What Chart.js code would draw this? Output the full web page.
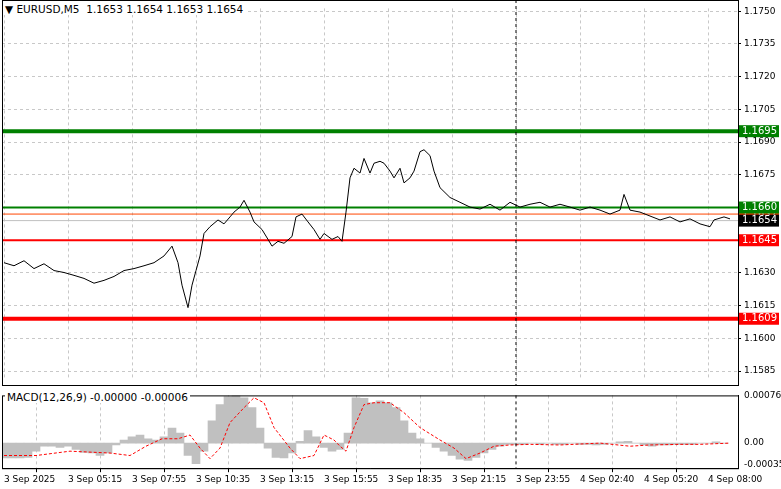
<!DOCTYPE html>
<html><head><meta charset="utf-8">
<script src="https://cdn.jsdelivr.net/npm/chart.js@4.4.1/dist/chart.umd.min.js"></script>
<style>
body{margin:0;background:#fff;width:781px;height:489px;overflow:hidden;position:relative;font-family:"DejaVu Sans",sans-serif}
#c1{position:absolute;left:0;top:0}
#c2{position:absolute;left:0;top:387px}
.lbl{position:absolute;font-size:10.5px;color:#000;background:#fff;padding:0 2px;white-space:pre}
</style></head><body>
<canvas id="c1" width="781" height="388"></canvas>
<canvas id="c2" width="781" height="102"></canvas>
<div class="lbl" style="left:3px;top:3px">▼ EURUSD,M5  1.1653 1.1654 1.1653 1.1654</div>
<div class="lbl" style="left:5px;top:391px">MACD(12,26,9) -0.00000 -0.00006</div>
<script>
const timeLabels=["3 Sep 2025","3 Sep 05:15","3 Sep 07:55","3 Sep 10:35","3 Sep 13:15","3 Sep 15:55","3 Sep 18:35","3 Sep 21:15","3 Sep 23:55","4 Sep 02:40","4 Sep 05:20","4 Sep 08:00"];
const priceTicks=[1.1585,1.1600,1.1615,1.1630,1.1645,1.1660,1.1675,1.1690,1.1705,1.1720,1.1735,1.1750];
const priceBars=[0,5,10,15,20,25,30,35,40,45,50,55,60,65,70,75,80,84,87,89,92,94,96,98,100,103,107,110,113,115,118,120,123,125,129,132,134,137,140,144,146,149,152,155,158,160,164,167,169,171,173,175,178,180,183,185,188,190,193,195,198,200,203,205,208,210,213,215,218,223,228,233,238,243,248,253,258,263,268,273,278,283,288,293,298,303,308,310,313,318,323,328,333,338,343,348,353,355,360,363];
const priceVals=[1.16347,1.16333,1.16356,1.16320,1.16342,1.16311,1.16302,1.16289,1.16275,1.16253,1.16266,1.16284,1.16311,1.16320,1.16333,1.16347,1.16378,1.16423,1.16347,1.16244,1.16141,1.16244,1.16311,1.16378,1.16481,1.16512,1.16543,1.16525,1.16557,1.16579,1.16602,1.16633,1.16579,1.16534,1.16499,1.16454,1.16423,1.16445,1.16436,1.16467,1.16557,1.16570,1.16534,1.16499,1.16454,1.16481,1.16454,1.16467,1.16445,1.16579,1.16736,1.16780,1.16758,1.16825,1.16758,1.16803,1.16812,1.16803,1.16767,1.16736,1.16780,1.16713,1.16736,1.16767,1.16856,1.16865,1.16838,1.16767,1.16691,1.16646,1.16624,1.16602,1.16593,1.16615,1.16588,1.16624,1.16602,1.16615,1.16624,1.16602,1.16615,1.16602,1.16588,1.16602,1.16588,1.16570,1.16588,1.16660,1.16588,1.16579,1.16561,1.16543,1.16557,1.16534,1.16548,1.16525,1.16512,1.16543,1.16557,1.16548];
const levelVals=[1.1695,1.1660,1.1657,1.1654,1.1645,1.1609];
const levelNames=["1.1695","1.1660","1.1657","1.1654","1.1645","1.1609"];
const levelColors=["#008000","#008000","#ff4500","#c0c0c0","#ff0000","#ff0000"];
const levelBoxColors=["#008000","#008000","#ff4500","#000000","#ff0000","#ff0000"];
const levelWidths=[4,2,1,1,2,4];
const macdHist=[-24,-24,-24,-23,-13,-5,-5,-7,-5,-10,-15,-16,-20,-16,-3,5,10,13,7,5,10,24,16,-20,-33,-13,36,62,75,77,73,57,24,-8,-23,-24,-16,3,20,10,-7,-13,-10,16,73,72,65,68,65,57,36,16,7,0,-7,-13,-20,-26,-28,-23,-16,-10,-5,-2,-2,-2,0,-2,0,-2,-2,0,-2,-2,-3,-2,0,2,3,0,-3,-5,-3,-3,-2,-2,-2,0,0,2,0];
const macdSigBars=[0,16,33,53,63,71,79,87,93,98,103,108,113,120,125,130,135,143,148,155,160,165,168,171,175,180,185,193,200,208,218,225,231,238,245,253,263,278,298,313,323,338,348,363];
const macdSig=[-20,-20,-13,-16,-20,-5,7,7,13,-8,-25,-8,33,57,73,65,25,-8,-25,-20,13,5,-5,-13,25,62,65,65,49,25,5,-8,-25,-16,-5,-3,-2,-3,0,-5,-3,-2,-2,0];
const histBars=macdHist.map((v,i)=>({x:i*4,y:v/100000}));
const sigPts=macdSigBars.map((b,i)=>({x:b,y:macdSig[i]/100000}));
const pricePts=priceBars.map((b,i)=>({x:b,y:priceVals[i]}));
const X0=-1,X1=367,RW=43;
const font={family:"DejaVu Sans",size:9};
const xTicks=timeLabels.map((_,i)=>({value:i*32}));

const levelPlugin={id:'lv',afterDatasetsDraw(ch){
  const c=ch.ctx,y=ch.scales.y,a=ch.chartArea;
  c.save();
  const xv=ch.scales.x.getPixelForValue(256);
  c.strokeStyle="#000";c.setLineDash([3,3]);c.lineWidth=1;
  c.beginPath();c.moveTo(xv,0);c.lineTo(xv,385);c.stroke();c.setLineDash([]);
  c.font="10px DejaVu Sans";c.textBaseline="middle";
  const order=[0,5,2,4,3,1];
  order.forEach(i=>{const py=y.getPixelForValue(levelVals[i]);
    c.fillStyle=levelBoxColors[i];c.fillRect(a.right+1,py-6,40,12);
    c.fillStyle="#fff";c.fillText(levelNames[i],a.right+4,py);});
  c.strokeStyle="#000";c.lineWidth=1;c.strokeRect(a.left+0.5,0.5,a.right-a.left,385);
  c.restore();}};

const datasets=levelVals.map((v,i)=>({type:'line',data:[{x:X0,y:v},{x:X1,y:v}],borderColor:levelColors[i],borderWidth:levelWidths[i],pointRadius:0,order:2}));
datasets.push({type:'line',data:pricePts,borderColor:"#000",borderWidth:1,pointRadius:0,tension:0,order:1});

new Chart(document.getElementById('c1'),{type:'line',data:{datasets},
 options:{responsive:false,animation:false,layout:{padding:{left:2,top:0,bottom:2,right:0}},
  plugins:{legend:{display:false},tooltip:{enabled:false}},
  scales:{x:{type:'linear',min:X0,max:X1,afterBuildTicks:s=>{s.ticks=xTicks},ticks:{display:false},grid:{color:"#c8c8c8",drawTicks:false},border:{display:false,dash:[3,3]}},
   y:{position:'right',min:1.15811,max:1.17513,afterBuildTicks:s=>{s.ticks=priceTicks.map(v=>({value:v}))},afterFit:s=>{s.width=RW},
    ticks:{font,color:"#000",padding:3,callback:v=>v.toFixed(4)},grid:{color:"#c8c8c8",drawTicks:true,tickLength:3,tickColor:"#000"},border:{color:"#000",dash:[3,3]}}}},
 plugins:[levelPlugin]});

const boxPlugin={id:'bx',afterDraw(ch){const c=ch.ctx,a=ch.chartArea;c.save();c.strokeStyle="#000";c.lineWidth=1;c.strokeRect(a.left+0.5,a.top+0.5,a.right-a.left,a.bottom-a.top);
 const xv=ch.scales.x.getPixelForValue(256);c.setLineDash([3,3]);c.beginPath();c.moveTo(xv,a.top);c.lineTo(xv,a.bottom);c.stroke();c.restore();}};
new Chart(document.getElementById('c2'),{data:{datasets:[
  {type:'line',data:sigPts,borderColor:"#ff0000",borderDash:[3,2],borderWidth:1,pointRadius:0,order:1},
  {type:'bar',data:histBars,backgroundColor:"#c0c0c0",barThickness:8,order:2}]},
 options:{responsive:false,animation:false,layout:{padding:{left:2,top:2,bottom:2,right:0}},
  plugins:{legend:{display:false},tooltip:{enabled:false}},
  scales:{x:{type:'linear',min:X0,max:X1,afterBuildTicks:s=>{s.ticks=xTicks},offset:false,
    ticks:{font,color:"#000",align:'start',maxRotation:0,autoSkip:false,padding:2,callback:(v)=>timeLabels[Math.round(v/32)]},
    grid:{color:"#c8c8c8",tickLength:4,tickColor:"#000"},border:{color:"#000",dash:[3,3]}},
   y:{position:'right',min:-0.000404,max:0.000768,afterBuildTicks:s=>{s.ticks=[{value:0.00076},{value:0},{value:-0.00035}]},afterFit:s=>{s.width=RW},
    ticks:{font,color:"#000",padding:3,callback:v=>v===0?"0.00":v.toFixed(5)},grid:{display:false,tickLength:3},border:{color:"#000"}}}},
 plugins:[boxPlugin]});
</script></body></html>
